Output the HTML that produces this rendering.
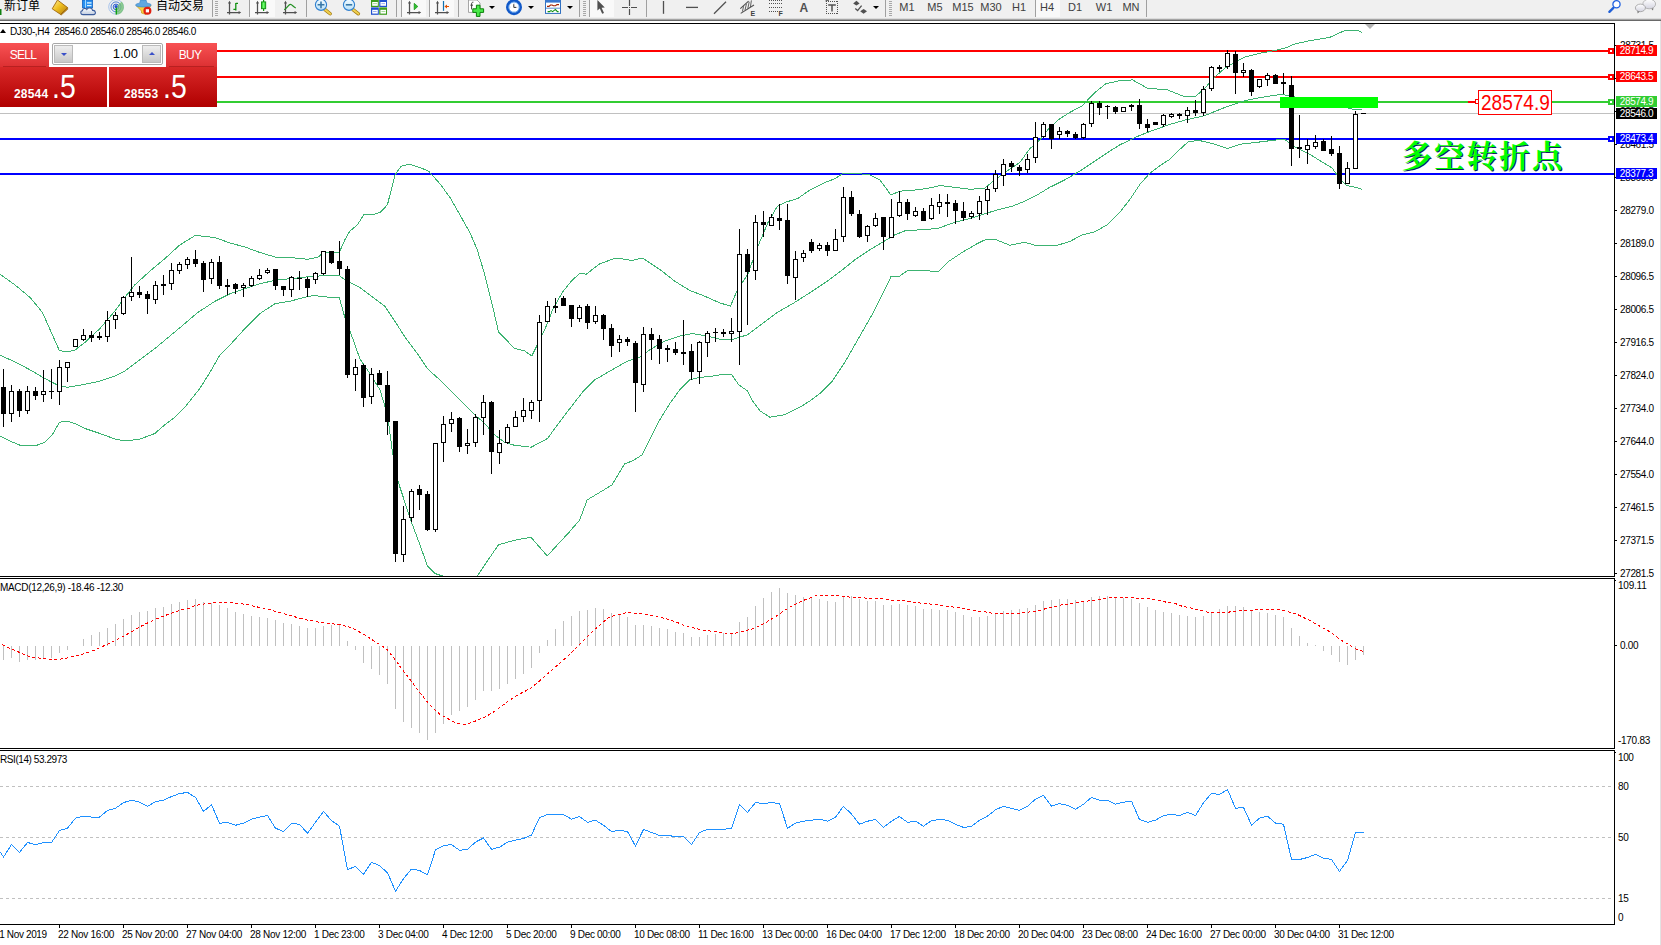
<!DOCTYPE html>
<html><head><meta charset="utf-8"><title>DJ30 H4</title>
<style>
html,body{margin:0;padding:0;background:#fff;}
body{width:1661px;height:945px;position:relative;overflow:hidden;font-family:"Liberation Sans","Noto Sans CJK SC",sans-serif;}
#chart{position:absolute;left:0;top:0;}
.t{position:absolute;white-space:nowrap;height:16px;line-height:16px;}
.pb{position:absolute;left:1616px;width:41px;color:#fff;font-size:10px;text-align:center;white-space:nowrap;}
#tb{position:absolute;left:0;top:0;width:1661px;height:19px;background:linear-gradient(#f0f0f0 0,#f0f0f0 18px,#dcdcdc 18px);}
#tbl1{position:absolute;left:0;top:19px;width:1661px;height:1px;background:#a4a4a4;}
#tbl2{position:absolute;left:0;top:20px;width:1661px;height:1px;background:#696969;}
.tt{position:absolute;top:0;height:15px;line-height:15px;font-size:11px;color:#404040;white-space:nowrap;transform:translateX(-50%);}
.cn{position:absolute;top:-2px;height:16px;line-height:16px;font-size:12px;color:#000;white-space:nowrap;}
.sep{position:absolute;top:0;width:1px;height:17px;background:#a0a0a0;}
.grip{position:absolute;top:1px;width:3px;height:15px;background:repeating-linear-gradient(#a8a8a8 0 1px,#f0f0f0 1px 2px);}
.pressed{position:absolute;top:0;height:17px;background:#f9f9f9;}
.ico{position:absolute;top:0;}
.dd{position:absolute;top:6px;width:0;height:0;border-left:3px solid transparent;border-right:3px solid transparent;border-top:3px solid #000;}
/* trade panel */
#tp{position:absolute;left:0;top:43px;width:217px;height:64px;background:#fff;}
#tp .sell,#tp .buy{position:absolute;top:0;height:24px;background:linear-gradient(#f85254,#dc3032);color:#fff;font-size:12px;text-align:center;line-height:24px;letter-spacing:-0.7px;text-indent:-3px;}
#tp .sell{left:0;width:49px;} #tp .buy{left:166px;width:51px;}
#tp .sell:after,#tp .buy:after{content:"";position:absolute;left:3px;right:3px;bottom:0;height:1px;background:#b82020;}
#tp .ps,#tp .pb2{position:absolute;top:24px;height:40px;background:linear-gradient(#d82828,#b00000);color:#fff;}
#tp .ps{left:0;width:107px;} #tp .pb2{left:109px;width:108px;}
#tp .sm{position:absolute;font-size:12px;font-weight:bold;top:20px;line-height:14px;letter-spacing:0.2px;}
#tp .bg{position:absolute;font-size:33px;top:0px;line-height:40px;transform:scaleX(0.86);transform-origin:left center;}
#vol{position:absolute;left:52px;top:0;width:111px;height:22px;box-sizing:border-box;border:1px solid #a8a8a8;border-radius:2px;background:#fff;}
#vol .b{position:absolute;top:1px;width:19px;height:18px;background:linear-gradient(#eee,#c8c8c8);border:1px solid #bbb;box-sizing:border-box;}
#vol .v{position:absolute;right:24px;top:0;font-size:13px;line-height:20px;color:#000;}
.tri-d{position:absolute;left:6px;top:7px;width:0;height:0;border-left:3px solid transparent;border-right:3px solid transparent;border-top:3px solid #3a50c8;}
.tri-u{position:absolute;left:6px;top:6px;width:0;height:0;border-left:3px solid transparent;border-right:3px solid transparent;border-bottom:3px solid #3a50c8;}
#big{position:absolute;left:1478px;top:90px;width:74px;height:25px;box-sizing:border-box;border:1px solid #f00;background:#fff;color:#f00;font-size:22px;line-height:23px;white-space:nowrap;}
#big span{display:inline-block;transform:scaleX(0.865);transform-origin:left center;margin-left:2px;}
#cn{position:absolute;left:1401.5px;top:134.5px;font-family:"Liberation Serif","Noto Serif CJK SC",serif;font-weight:bold;font-size:30.5px;line-height:44px;color:#00ff00;text-shadow:1px 1px 0 #102060;white-space:nowrap;letter-spacing:2.1px;}
</style></head><body>
<svg id="chart" width="1661" height="945" viewBox="0 0 1661 945">
<defs><clipPath id="mainclip"><rect x="0" y="24" width="1614" height="552"/></clipPath></defs>
<rect x="0" y="113" width="1614" height="1" fill="#c0c0c0"/>
<rect x="0" y="50" width="1614" height="2" fill="#ff0000"/>
<rect x="0" y="76" width="1614" height="2" fill="#ff0000"/>
<rect x="0" y="101" width="1614" height="2" fill="#32cd32"/>
<rect x="0" y="138" width="1614" height="2" fill="#0000ff"/>
<rect x="0" y="173" width="1614" height="2" fill="#0000ff"/>
<g clip-path="url(#mainclip)" shape-rendering="crispEdges">
<polyline points="0.0,274.2 15.0,284.9 30.0,297.4 42.4,312.4 52.4,334.9 59.4,350.6 67.4,351.8 75.4,349.8 84.9,342.4 99.9,328.6 114.9,311.1 124.8,297.4 134.8,284.9 149.8,271.2 164.8,258.7 179.8,245.0 194.8,235.7 204.7,236.2 207.5,236.7 215.0,237.5 230.0,243.0 244.9,247.0 259.9,252.5 274.9,257.0 289.9,257.5 307.4,259.2 317.4,257.5 323.3,253.0 331.3,252.5 339.3,252.5 344.8,240.0 349.8,231.2 357.3,225.0 363.7,214.9 372.5,214.9 380.0,212.4 387.4,204.9 391.2,189.9 394.9,175.0 401.2,166.2 409.9,164.2 419.9,167.5 428.6,171.2 439.9,183.7 449.9,197.4 459.9,214.9 469.8,232.4 477.3,249.9 484.8,274.8 492.3,304.8 498.6,332.3 514.8,348.5 524.8,351.0 531.8,356.0 539.8,339.8 548.0,322.3 552.5,309.9 562.4,292.4 571.2,281.2 579.9,273.2 586.2,274.2 599.9,263.7 616.1,258.0 632.4,260.5 642.3,258.0 659.8,269.4 674.8,281.2 689.8,290.4 704.8,296.2 719.8,302.9 730.5,306.1 737.5,289.8 747.5,274.9 757.5,247.4 767.4,223.7 777.4,206.2 786.2,202.0 797.4,198.7 809.9,190.0 824.9,182.5 834.9,178.7 842.3,173.7 854.8,173.0 869.8,175.0 879.8,180.0 891.0,195.0 899.8,191.2 914.8,190.0 919.8,189.5 930.0,187.8 940.0,185.6 955.0,187.3 969.9,189.3 984.9,188.1 994.9,179.9 1004.9,172.4 1019.9,162.4 1029.9,148.6 1039.9,139.9 1049.8,127.4 1059.8,118.7 1069.8,112.4 1082.3,105.7 1094.8,92.5 1106.0,83.7 1119.8,80.7 1132.5,79.9 1147.5,88.2 1167.4,89.9 1184.9,96.9 1194.9,96.9 1204.9,88.2 1214.9,76.9 1224.9,68.2 1234.9,62.0 1244.8,57.0 1259.8,53.2 1269.8,51.5 1284.8,48.2 1294.8,44.0 1309.8,40.7 1328.0,37.7 1329.4,37.5 1344.4,30.7 1356.9,30.2 1362.4,32.5" fill="none" stroke="#3cb371" stroke-width="1" />
<polyline points="0.0,355.3 15.0,361.8 30.0,369.8 44.9,378.6 59.4,386.0 67.4,387.3 84.9,384.3 99.9,381.1 114.9,376.1 124.8,371.1 139.8,359.8 154.8,348.6 169.8,336.1 184.8,323.6 197.3,312.9 200.0,311.1 215.0,301.2 230.0,293.7 244.9,288.7 259.9,283.7 274.9,280.4 289.9,278.7 307.4,276.9 323.3,275.7 339.3,275.7 347.3,281.2 359.8,287.4 374.8,298.7 384.8,306.1 394.8,321.1 406.0,338.6 417.4,353.7 427.4,368.7 439.9,380.0 449.9,389.9 459.9,399.9 474.9,414.9 484.8,423.6 494.8,434.9 504.8,442.4 514.8,445.4 519.8,445.9 531.2,447.2 547.5,438.5 557.5,424.8 569.9,408.5 582.4,392.3 594.9,379.8 609.9,371.1 627.4,361.1 639.9,357.3 649.8,349.8 664.8,341.1 679.8,336.1 692.3,333.6 707.3,336.1 719.8,339.1 731.2,339.8 747.5,334.8 762.4,323.6 777.4,312.3 794.9,302.3 812.4,291.1 827.4,281.1 842.3,269.9 854.8,259.9 869.8,249.9 882.3,242.4 894.8,234.9 906.0,230.4 919.8,229.9 937.5,228.5 955.0,222.3 969.9,218.6 984.9,213.6 999.9,209.3 1012.4,206.1 1024.9,201.1 1037.4,194.8 1049.8,187.3 1064.8,179.9 1079.8,171.1 1094.8,161.1 1109.8,151.1 1119.8,144.9 1135.0,137.4 1150.0,131.4 1169.9,124.4 1184.9,120.1 1204.9,115.6 1219.9,109.4 1229.9,105.6 1244.8,100.7 1259.8,97.7 1274.8,95.2 1282.3,94.4 1294.8,96.9 1309.8,99.4 1334.7,103.1 1344.7,106.9 1354.7,109.9 1362.2,109.4" fill="none" stroke="#3cb371" stroke-width="1" />
<polyline points="0.0,436.0 10.0,441.0 20.0,445.2 35.0,446.0 44.9,442.2 52.4,434.7 59.4,422.3 67.4,421.0 74.9,423.5 84.9,428.5 99.9,433.5 114.9,439.0 124.8,441.0 139.8,439.2 154.8,433.5 164.8,424.8 174.8,417.3 184.8,407.3 194.8,394.8 199.8,388.5 210.0,372.3 220.0,354.8 230.0,344.9 244.9,328.6 259.9,313.6 274.9,303.7 289.9,301.2 307.4,296.7 314.9,295.4 323.3,296.9 339.3,297.4 344.8,317.4 352.3,337.4 359.8,358.6 370.0,373.7 380.0,389.9 387.5,414.9 392.5,452.4 397.5,479.8 404.9,502.3 412.4,524.8 419.9,544.7 427.4,566.0 434.9,573.5 442.4,576.0 477.4,576.0 484.8,564.7 498.6,544.7 514.8,540.2 531.0,537.3 547.3,556.0 559.8,542.2 568.0,533.5 579.7,519.9 587.2,499.9 599.7,492.4 612.1,484.9 624.6,463.7 632.4,461.0 642.3,454.7 649.8,439.7 659.8,419.8 669.8,403.5 679.8,389.8 689.8,379.8 699.8,377.3 709.8,376.6 719.8,374.8 731.2,374.0 738.7,384.7 747.5,391.0 752.5,401.0 760.0,410.9 769.9,417.2 784.9,414.7 799.9,407.2 809.9,401.0 819.9,393.5 832.4,381.0 844.8,362.3 854.8,344.8 864.8,327.3 874.8,309.8 882.3,294.8 891.0,276.6 899.8,276.1 907.3,270.6 919.8,270.4 938.7,271.5 947.5,262.2 962.4,252.3 977.4,243.5 986.2,239.3 994.9,239.3 1009.9,245.3 1024.9,242.3 1034.9,245.3 1057.3,245.3 1069.8,241.5 1082.3,234.8 1094.8,231.8 1107.3,224.8 1117.3,214.8 1119.8,212.3 1130.0,199.3 1140.0,184.3 1150.0,173.1 1160.0,165.6 1169.9,159.3 1179.9,149.3 1188.7,141.4 1199.9,140.6 1214.9,144.3 1227.4,148.6 1239.9,144.3 1254.8,142.6 1274.8,140.1 1284.8,139.4 1294.8,146.8 1309.8,154.3 1319.8,160.6 1332.2,168.1 1339.2,178.1 1346.7,185.5 1356.7,187.5 1362.2,189.3" fill="none" stroke="#3cb371" stroke-width="1" />
</g>
<g shape-rendering="crispEdges">
<rect x="3" y="369" width="1" height="58" fill="#000"/>
<rect x="1" y="387" width="5" height="27" fill="#000"/>
<rect x="11" y="385" width="1" height="37" fill="#000"/>
<rect x="9" y="391" width="5" height="23" fill="#000"/>
<rect x="10" y="392" width="3" height="21" fill="#fff"/>
<rect x="19" y="389" width="1" height="28" fill="#000"/>
<rect x="17" y="391" width="5" height="20" fill="#000"/>
<rect x="27" y="386" width="1" height="28" fill="#000"/>
<rect x="25" y="391" width="5" height="20" fill="#000"/>
<rect x="26" y="392" width="3" height="18" fill="#fff"/>
<rect x="35" y="387" width="1" height="13" fill="#000"/>
<rect x="33" y="391" width="5" height="5" fill="#000"/>
<rect x="43" y="370" width="1" height="32" fill="#000"/>
<rect x="41" y="391" width="5" height="4" fill="#000"/>
<rect x="42" y="392" width="3" height="2" fill="#fff"/>
<rect x="51" y="369" width="1" height="30" fill="#000"/>
<rect x="49" y="391" width="5" height="1" fill="#000"/>
<rect x="59" y="360" width="1" height="45" fill="#000"/>
<rect x="57" y="367" width="5" height="25" fill="#000"/>
<rect x="58" y="368" width="3" height="23" fill="#fff"/>
<rect x="67" y="362" width="1" height="20" fill="#000"/>
<rect x="65" y="362" width="5" height="6" fill="#000"/>
<rect x="66" y="363" width="3" height="4" fill="#fff"/>
<rect x="75" y="339" width="1" height="8" fill="#000"/>
<rect x="73" y="339" width="5" height="8" fill="#000"/>
<rect x="74" y="340" width="3" height="6" fill="#fff"/>
<rect x="83" y="329" width="1" height="12" fill="#000"/>
<rect x="81" y="335" width="5" height="5" fill="#000"/>
<rect x="82" y="336" width="3" height="3" fill="#fff"/>
<rect x="91" y="331" width="1" height="11" fill="#000"/>
<rect x="89" y="335" width="5" height="3" fill="#000"/>
<rect x="99" y="332" width="1" height="8" fill="#000"/>
<rect x="97" y="336" width="5" height="2" fill="#000"/>
<rect x="107" y="311" width="1" height="31" fill="#000"/>
<rect x="105" y="320" width="5" height="17" fill="#000"/>
<rect x="106" y="321" width="3" height="15" fill="#fff"/>
<rect x="115" y="312" width="1" height="17" fill="#000"/>
<rect x="113" y="315" width="5" height="5" fill="#000"/>
<rect x="114" y="316" width="3" height="3" fill="#fff"/>
<rect x="123" y="296" width="1" height="19" fill="#000"/>
<rect x="121" y="297" width="5" height="17" fill="#000"/>
<rect x="122" y="298" width="3" height="15" fill="#fff"/>
<rect x="131" y="257" width="1" height="44" fill="#000"/>
<rect x="129" y="292" width="5" height="5" fill="#000"/>
<rect x="130" y="293" width="3" height="3" fill="#fff"/>
<rect x="139" y="286" width="1" height="12" fill="#000"/>
<rect x="137" y="292" width="5" height="3" fill="#000"/>
<rect x="147" y="291" width="1" height="23" fill="#000"/>
<rect x="145" y="294" width="5" height="5" fill="#000"/>
<rect x="155" y="281" width="1" height="23" fill="#000"/>
<rect x="153" y="285" width="5" height="15" fill="#000"/>
<rect x="154" y="286" width="3" height="13" fill="#fff"/>
<rect x="163" y="275" width="1" height="20" fill="#000"/>
<rect x="161" y="284" width="5" height="2" fill="#000"/>
<rect x="171" y="263" width="1" height="27" fill="#000"/>
<rect x="169" y="270" width="5" height="14" fill="#000"/>
<rect x="170" y="271" width="3" height="12" fill="#fff"/>
<rect x="179" y="262" width="1" height="12" fill="#000"/>
<rect x="177" y="264" width="5" height="7" fill="#000"/>
<rect x="178" y="265" width="3" height="5" fill="#fff"/>
<rect x="187" y="257" width="1" height="12" fill="#000"/>
<rect x="185" y="259" width="5" height="6" fill="#000"/>
<rect x="186" y="260" width="3" height="4" fill="#fff"/>
<rect x="195" y="250" width="1" height="17" fill="#000"/>
<rect x="193" y="259" width="5" height="5" fill="#000"/>
<rect x="203" y="261" width="1" height="31" fill="#000"/>
<rect x="201" y="263" width="5" height="17" fill="#000"/>
<rect x="211" y="259" width="1" height="25" fill="#000"/>
<rect x="209" y="262" width="5" height="17" fill="#000"/>
<rect x="210" y="263" width="3" height="15" fill="#fff"/>
<rect x="219" y="256" width="1" height="33" fill="#000"/>
<rect x="217" y="262" width="5" height="24" fill="#000"/>
<rect x="227" y="279" width="1" height="16" fill="#000"/>
<rect x="225" y="285" width="5" height="2" fill="#000"/>
<rect x="235" y="283" width="1" height="11" fill="#000"/>
<rect x="233" y="284" width="5" height="5" fill="#000"/>
<rect x="243" y="283" width="1" height="14" fill="#000"/>
<rect x="241" y="285" width="5" height="3" fill="#000"/>
<rect x="242" y="286" width="3" height="1" fill="#fff"/>
<rect x="251" y="276" width="1" height="11" fill="#000"/>
<rect x="249" y="278" width="5" height="8" fill="#000"/>
<rect x="250" y="279" width="3" height="6" fill="#fff"/>
<rect x="259" y="269" width="1" height="11" fill="#000"/>
<rect x="257" y="275" width="5" height="4" fill="#000"/>
<rect x="258" y="276" width="3" height="2" fill="#fff"/>
<rect x="267" y="268" width="1" height="6" fill="#000"/>
<rect x="265" y="270" width="5" height="3" fill="#000"/>
<rect x="266" y="271" width="3" height="1" fill="#fff"/>
<rect x="275" y="269" width="1" height="21" fill="#000"/>
<rect x="273" y="269" width="5" height="17" fill="#000"/>
<rect x="283" y="286" width="1" height="10" fill="#000"/>
<rect x="281" y="286" width="5" height="4" fill="#000"/>
<rect x="291" y="276" width="1" height="21" fill="#000"/>
<rect x="289" y="277" width="5" height="13" fill="#000"/>
<rect x="290" y="278" width="3" height="11" fill="#fff"/>
<rect x="299" y="271" width="1" height="19" fill="#000"/>
<rect x="297" y="278" width="5" height="1" fill="#000"/>
<rect x="307" y="277" width="1" height="20" fill="#000"/>
<rect x="305" y="279" width="5" height="9" fill="#000"/>
<rect x="315" y="272" width="1" height="12" fill="#000"/>
<rect x="313" y="273" width="5" height="7" fill="#000"/>
<rect x="314" y="274" width="3" height="5" fill="#fff"/>
<rect x="323" y="251" width="1" height="24" fill="#000"/>
<rect x="321" y="251" width="5" height="23" fill="#000"/>
<rect x="322" y="252" width="3" height="21" fill="#fff"/>
<rect x="331" y="251" width="1" height="13" fill="#000"/>
<rect x="329" y="251" width="5" height="12" fill="#000"/>
<rect x="339" y="241" width="1" height="34" fill="#000"/>
<rect x="337" y="261" width="5" height="8" fill="#000"/>
<rect x="347" y="266" width="1" height="112" fill="#000"/>
<rect x="345" y="269" width="5" height="106" fill="#000"/>
<rect x="355" y="359" width="1" height="32" fill="#000"/>
<rect x="353" y="367" width="5" height="8" fill="#000"/>
<rect x="354" y="368" width="3" height="6" fill="#fff"/>
<rect x="363" y="364" width="1" height="43" fill="#000"/>
<rect x="361" y="365" width="5" height="33" fill="#000"/>
<rect x="371" y="368" width="1" height="36" fill="#000"/>
<rect x="369" y="374" width="5" height="23" fill="#000"/>
<rect x="370" y="375" width="3" height="21" fill="#fff"/>
<rect x="379" y="370" width="1" height="15" fill="#000"/>
<rect x="377" y="373" width="5" height="12" fill="#000"/>
<rect x="387" y="371" width="1" height="64" fill="#000"/>
<rect x="385" y="385" width="5" height="37" fill="#000"/>
<rect x="395" y="421" width="1" height="141" fill="#000"/>
<rect x="393" y="421" width="5" height="133" fill="#000"/>
<rect x="403" y="506" width="1" height="56" fill="#000"/>
<rect x="401" y="519" width="5" height="36" fill="#000"/>
<rect x="402" y="520" width="3" height="34" fill="#fff"/>
<rect x="411" y="489" width="1" height="33" fill="#000"/>
<rect x="409" y="491" width="5" height="27" fill="#000"/>
<rect x="410" y="492" width="3" height="25" fill="#fff"/>
<rect x="419" y="485" width="1" height="25" fill="#000"/>
<rect x="417" y="489" width="5" height="6" fill="#000"/>
<rect x="427" y="491" width="1" height="40" fill="#000"/>
<rect x="425" y="494" width="5" height="36" fill="#000"/>
<rect x="435" y="443" width="1" height="89" fill="#000"/>
<rect x="433" y="443" width="5" height="87" fill="#000"/>
<rect x="434" y="444" width="3" height="85" fill="#fff"/>
<rect x="443" y="416" width="1" height="46" fill="#000"/>
<rect x="441" y="424" width="5" height="19" fill="#000"/>
<rect x="442" y="425" width="3" height="17" fill="#fff"/>
<rect x="451" y="412" width="1" height="20" fill="#000"/>
<rect x="449" y="419" width="5" height="5" fill="#000"/>
<rect x="450" y="420" width="3" height="3" fill="#fff"/>
<rect x="459" y="417" width="1" height="35" fill="#000"/>
<rect x="457" y="418" width="5" height="29" fill="#000"/>
<rect x="467" y="429" width="1" height="25" fill="#000"/>
<rect x="465" y="443" width="5" height="3" fill="#000"/>
<rect x="466" y="444" width="3" height="1" fill="#fff"/>
<rect x="475" y="414" width="1" height="33" fill="#000"/>
<rect x="473" y="417" width="5" height="26" fill="#000"/>
<rect x="474" y="418" width="3" height="24" fill="#fff"/>
<rect x="483" y="395" width="1" height="40" fill="#000"/>
<rect x="481" y="402" width="5" height="16" fill="#000"/>
<rect x="482" y="403" width="3" height="14" fill="#fff"/>
<rect x="491" y="401" width="1" height="73" fill="#000"/>
<rect x="489" y="402" width="5" height="50" fill="#000"/>
<rect x="499" y="430" width="1" height="34" fill="#000"/>
<rect x="497" y="443" width="5" height="10" fill="#000"/>
<rect x="498" y="444" width="3" height="8" fill="#fff"/>
<rect x="507" y="424" width="1" height="20" fill="#000"/>
<rect x="505" y="427" width="5" height="16" fill="#000"/>
<rect x="506" y="428" width="3" height="14" fill="#fff"/>
<rect x="515" y="411" width="1" height="16" fill="#000"/>
<rect x="513" y="417" width="5" height="10" fill="#000"/>
<rect x="514" y="418" width="3" height="8" fill="#fff"/>
<rect x="523" y="398" width="1" height="24" fill="#000"/>
<rect x="521" y="410" width="5" height="7" fill="#000"/>
<rect x="522" y="411" width="3" height="5" fill="#fff"/>
<rect x="531" y="400" width="1" height="19" fill="#000"/>
<rect x="529" y="402" width="5" height="9" fill="#000"/>
<rect x="530" y="403" width="3" height="7" fill="#fff"/>
<rect x="539" y="315" width="1" height="107" fill="#000"/>
<rect x="537" y="322" width="5" height="79" fill="#000"/>
<rect x="538" y="323" width="3" height="77" fill="#fff"/>
<rect x="547" y="301" width="1" height="21" fill="#000"/>
<rect x="545" y="306" width="5" height="16" fill="#000"/>
<rect x="546" y="307" width="3" height="14" fill="#fff"/>
<rect x="555" y="298" width="1" height="15" fill="#000"/>
<rect x="553" y="306" width="5" height="2" fill="#000"/>
<rect x="563" y="296" width="1" height="9" fill="#000"/>
<rect x="561" y="298" width="5" height="8" fill="#000"/>
<rect x="571" y="305" width="1" height="22" fill="#000"/>
<rect x="569" y="305" width="5" height="14" fill="#000"/>
<rect x="579" y="305" width="1" height="17" fill="#000"/>
<rect x="577" y="307" width="5" height="12" fill="#000"/>
<rect x="578" y="308" width="3" height="10" fill="#fff"/>
<rect x="587" y="304" width="1" height="25" fill="#000"/>
<rect x="585" y="306" width="5" height="17" fill="#000"/>
<rect x="595" y="306" width="1" height="18" fill="#000"/>
<rect x="593" y="315" width="5" height="7" fill="#000"/>
<rect x="594" y="316" width="3" height="5" fill="#fff"/>
<rect x="603" y="314" width="1" height="26" fill="#000"/>
<rect x="601" y="315" width="5" height="14" fill="#000"/>
<rect x="611" y="324" width="1" height="33" fill="#000"/>
<rect x="609" y="328" width="5" height="18" fill="#000"/>
<rect x="619" y="335" width="1" height="17" fill="#000"/>
<rect x="617" y="339" width="5" height="4" fill="#000"/>
<rect x="618" y="340" width="3" height="2" fill="#fff"/>
<rect x="627" y="337" width="1" height="9" fill="#000"/>
<rect x="625" y="339" width="5" height="3" fill="#000"/>
<rect x="635" y="341" width="1" height="71" fill="#000"/>
<rect x="633" y="343" width="5" height="40" fill="#000"/>
<rect x="643" y="327" width="1" height="65" fill="#000"/>
<rect x="641" y="334" width="5" height="51" fill="#000"/>
<rect x="642" y="335" width="3" height="49" fill="#fff"/>
<rect x="651" y="328" width="1" height="32" fill="#000"/>
<rect x="649" y="334" width="5" height="6" fill="#000"/>
<rect x="659" y="335" width="1" height="29" fill="#000"/>
<rect x="657" y="339" width="5" height="10" fill="#000"/>
<rect x="667" y="345" width="1" height="17" fill="#000"/>
<rect x="665" y="348" width="5" height="2" fill="#000"/>
<rect x="675" y="342" width="1" height="13" fill="#000"/>
<rect x="673" y="349" width="5" height="4" fill="#000"/>
<rect x="683" y="320" width="1" height="45" fill="#000"/>
<rect x="681" y="352" width="5" height="2" fill="#000"/>
<rect x="691" y="344" width="1" height="36" fill="#000"/>
<rect x="689" y="351" width="5" height="21" fill="#000"/>
<rect x="699" y="341" width="1" height="43" fill="#000"/>
<rect x="697" y="342" width="5" height="30" fill="#000"/>
<rect x="698" y="343" width="3" height="28" fill="#fff"/>
<rect x="707" y="331" width="1" height="26" fill="#000"/>
<rect x="705" y="333" width="5" height="10" fill="#000"/>
<rect x="706" y="334" width="3" height="8" fill="#fff"/>
<rect x="715" y="328" width="1" height="14" fill="#000"/>
<rect x="713" y="332" width="5" height="1" fill="#000"/>
<rect x="723" y="329" width="1" height="8" fill="#000"/>
<rect x="721" y="332" width="5" height="2" fill="#000"/>
<rect x="731" y="318" width="1" height="24" fill="#000"/>
<rect x="729" y="331" width="5" height="3" fill="#000"/>
<rect x="730" y="332" width="3" height="1" fill="#fff"/>
<rect x="739" y="229" width="1" height="136" fill="#000"/>
<rect x="737" y="254" width="5" height="78" fill="#000"/>
<rect x="738" y="255" width="3" height="76" fill="#fff"/>
<rect x="747" y="249" width="1" height="76" fill="#000"/>
<rect x="745" y="254" width="5" height="18" fill="#000"/>
<rect x="755" y="215" width="1" height="65" fill="#000"/>
<rect x="753" y="222" width="5" height="49" fill="#000"/>
<rect x="754" y="223" width="3" height="47" fill="#fff"/>
<rect x="763" y="211" width="1" height="26" fill="#000"/>
<rect x="761" y="222" width="5" height="3" fill="#000"/>
<rect x="771" y="214" width="1" height="12" fill="#000"/>
<rect x="769" y="217" width="5" height="9" fill="#000"/>
<rect x="770" y="218" width="3" height="7" fill="#fff"/>
<rect x="779" y="204" width="1" height="26" fill="#000"/>
<rect x="777" y="218" width="5" height="3" fill="#000"/>
<rect x="787" y="204" width="1" height="80" fill="#000"/>
<rect x="785" y="220" width="5" height="56" fill="#000"/>
<rect x="795" y="251" width="1" height="49" fill="#000"/>
<rect x="793" y="259" width="5" height="19" fill="#000"/>
<rect x="794" y="260" width="3" height="17" fill="#fff"/>
<rect x="803" y="250" width="1" height="12" fill="#000"/>
<rect x="801" y="253" width="5" height="5" fill="#000"/>
<rect x="802" y="254" width="3" height="3" fill="#fff"/>
<rect x="811" y="239" width="1" height="14" fill="#000"/>
<rect x="809" y="242" width="5" height="9" fill="#000"/>
<rect x="819" y="243" width="1" height="8" fill="#000"/>
<rect x="817" y="245" width="5" height="4" fill="#000"/>
<rect x="818" y="246" width="3" height="2" fill="#fff"/>
<rect x="827" y="242" width="1" height="14" fill="#000"/>
<rect x="825" y="245" width="5" height="6" fill="#000"/>
<rect x="835" y="229" width="1" height="22" fill="#000"/>
<rect x="833" y="239" width="5" height="12" fill="#000"/>
<rect x="834" y="240" width="3" height="10" fill="#fff"/>
<rect x="843" y="187" width="1" height="55" fill="#000"/>
<rect x="841" y="197" width="5" height="40" fill="#000"/>
<rect x="842" y="198" width="3" height="38" fill="#fff"/>
<rect x="851" y="191" width="1" height="25" fill="#000"/>
<rect x="849" y="197" width="5" height="17" fill="#000"/>
<rect x="859" y="210" width="1" height="28" fill="#000"/>
<rect x="857" y="214" width="5" height="23" fill="#000"/>
<rect x="867" y="225" width="1" height="17" fill="#000"/>
<rect x="865" y="226" width="5" height="10" fill="#000"/>
<rect x="866" y="227" width="3" height="8" fill="#fff"/>
<rect x="875" y="213" width="1" height="14" fill="#000"/>
<rect x="873" y="218" width="5" height="8" fill="#000"/>
<rect x="874" y="219" width="3" height="6" fill="#fff"/>
<rect x="883" y="217" width="1" height="33" fill="#000"/>
<rect x="881" y="217" width="5" height="20" fill="#000"/>
<rect x="891" y="199" width="1" height="39" fill="#000"/>
<rect x="889" y="217" width="5" height="21" fill="#000"/>
<rect x="890" y="218" width="3" height="19" fill="#fff"/>
<rect x="899" y="191" width="1" height="26" fill="#000"/>
<rect x="897" y="202" width="5" height="14" fill="#000"/>
<rect x="898" y="203" width="3" height="12" fill="#fff"/>
<rect x="907" y="199" width="1" height="21" fill="#000"/>
<rect x="905" y="202" width="5" height="12" fill="#000"/>
<rect x="915" y="207" width="1" height="10" fill="#000"/>
<rect x="913" y="211" width="5" height="5" fill="#000"/>
<rect x="914" y="212" width="3" height="3" fill="#fff"/>
<rect x="923" y="208" width="1" height="13" fill="#000"/>
<rect x="921" y="211" width="5" height="10" fill="#000"/>
<rect x="931" y="198" width="1" height="22" fill="#000"/>
<rect x="929" y="205" width="5" height="14" fill="#000"/>
<rect x="930" y="206" width="3" height="12" fill="#fff"/>
<rect x="939" y="194" width="1" height="20" fill="#000"/>
<rect x="937" y="202" width="5" height="5" fill="#000"/>
<rect x="938" y="203" width="3" height="3" fill="#fff"/>
<rect x="947" y="194" width="1" height="23" fill="#000"/>
<rect x="945" y="202" width="5" height="2" fill="#000"/>
<rect x="955" y="200" width="1" height="24" fill="#000"/>
<rect x="953" y="203" width="5" height="8" fill="#000"/>
<rect x="963" y="202" width="1" height="19" fill="#000"/>
<rect x="961" y="211" width="5" height="7" fill="#000"/>
<rect x="971" y="211" width="1" height="8" fill="#000"/>
<rect x="969" y="213" width="5" height="4" fill="#000"/>
<rect x="970" y="214" width="3" height="2" fill="#fff"/>
<rect x="979" y="196" width="1" height="24" fill="#000"/>
<rect x="977" y="201" width="5" height="13" fill="#000"/>
<rect x="978" y="202" width="3" height="11" fill="#fff"/>
<rect x="987" y="186" width="1" height="29" fill="#000"/>
<rect x="985" y="189" width="5" height="12" fill="#000"/>
<rect x="986" y="190" width="3" height="10" fill="#fff"/>
<rect x="995" y="170" width="1" height="22" fill="#000"/>
<rect x="993" y="174" width="5" height="15" fill="#000"/>
<rect x="994" y="175" width="3" height="13" fill="#fff"/>
<rect x="1003" y="159" width="1" height="27" fill="#000"/>
<rect x="1001" y="164" width="5" height="12" fill="#000"/>
<rect x="1002" y="165" width="3" height="10" fill="#fff"/>
<rect x="1011" y="161" width="1" height="11" fill="#000"/>
<rect x="1009" y="163" width="5" height="4" fill="#000"/>
<rect x="1019" y="165" width="1" height="11" fill="#000"/>
<rect x="1017" y="167" width="5" height="4" fill="#000"/>
<rect x="1027" y="154" width="1" height="19" fill="#000"/>
<rect x="1025" y="159" width="5" height="11" fill="#000"/>
<rect x="1026" y="160" width="3" height="9" fill="#fff"/>
<rect x="1035" y="122" width="1" height="41" fill="#000"/>
<rect x="1033" y="137" width="5" height="21" fill="#000"/>
<rect x="1034" y="138" width="3" height="19" fill="#fff"/>
<rect x="1043" y="122" width="1" height="16" fill="#000"/>
<rect x="1041" y="124" width="5" height="13" fill="#000"/>
<rect x="1042" y="125" width="3" height="11" fill="#fff"/>
<rect x="1051" y="124" width="1" height="25" fill="#000"/>
<rect x="1049" y="124" width="5" height="15" fill="#000"/>
<rect x="1059" y="127" width="1" height="12" fill="#000"/>
<rect x="1057" y="131" width="5" height="4" fill="#000"/>
<rect x="1058" y="132" width="3" height="2" fill="#fff"/>
<rect x="1067" y="130" width="1" height="7" fill="#000"/>
<rect x="1065" y="131" width="5" height="3" fill="#000"/>
<rect x="1075" y="132" width="1" height="7" fill="#000"/>
<rect x="1073" y="134" width="5" height="4" fill="#000"/>
<rect x="1083" y="123" width="1" height="16" fill="#000"/>
<rect x="1081" y="124" width="5" height="14" fill="#000"/>
<rect x="1082" y="125" width="3" height="12" fill="#fff"/>
<rect x="1091" y="101" width="1" height="26" fill="#000"/>
<rect x="1089" y="103" width="5" height="21" fill="#000"/>
<rect x="1090" y="104" width="3" height="19" fill="#fff"/>
<rect x="1099" y="101" width="1" height="14" fill="#000"/>
<rect x="1097" y="103" width="5" height="5" fill="#000"/>
<rect x="1107" y="105" width="1" height="14" fill="#000"/>
<rect x="1105" y="106" width="5" height="1" fill="#000"/>
<rect x="1115" y="106" width="1" height="8" fill="#000"/>
<rect x="1113" y="107" width="5" height="5" fill="#000"/>
<rect x="1123" y="107" width="1" height="5" fill="#000"/>
<rect x="1121" y="107" width="5" height="5" fill="#000"/>
<rect x="1122" y="108" width="3" height="3" fill="#fff"/>
<rect x="1131" y="104" width="1" height="7" fill="#000"/>
<rect x="1129" y="105" width="5" height="2" fill="#000"/>
<rect x="1139" y="99" width="1" height="30" fill="#000"/>
<rect x="1137" y="105" width="5" height="19" fill="#000"/>
<rect x="1147" y="119" width="1" height="13" fill="#000"/>
<rect x="1145" y="124" width="5" height="4" fill="#000"/>
<rect x="1155" y="122" width="1" height="3" fill="#000"/>
<rect x="1153" y="122" width="5" height="3" fill="#000"/>
<rect x="1163" y="114" width="1" height="13" fill="#000"/>
<rect x="1161" y="115" width="5" height="10" fill="#000"/>
<rect x="1162" y="116" width="3" height="8" fill="#fff"/>
<rect x="1171" y="113" width="1" height="5" fill="#000"/>
<rect x="1169" y="114" width="5" height="3" fill="#000"/>
<rect x="1170" y="115" width="3" height="1" fill="#fff"/>
<rect x="1179" y="113" width="1" height="6" fill="#000"/>
<rect x="1177" y="114" width="5" height="2" fill="#000"/>
<rect x="1187" y="107" width="1" height="16" fill="#000"/>
<rect x="1185" y="110" width="5" height="6" fill="#000"/>
<rect x="1186" y="111" width="3" height="4" fill="#fff"/>
<rect x="1195" y="100" width="1" height="16" fill="#000"/>
<rect x="1193" y="110" width="5" height="3" fill="#000"/>
<rect x="1203" y="86" width="1" height="30" fill="#000"/>
<rect x="1201" y="89" width="5" height="24" fill="#000"/>
<rect x="1202" y="90" width="3" height="22" fill="#fff"/>
<rect x="1211" y="66" width="1" height="25" fill="#000"/>
<rect x="1209" y="67" width="5" height="22" fill="#000"/>
<rect x="1210" y="68" width="3" height="20" fill="#fff"/>
<rect x="1219" y="65" width="1" height="7" fill="#000"/>
<rect x="1217" y="67" width="5" height="2" fill="#000"/>
<rect x="1227" y="50" width="1" height="19" fill="#000"/>
<rect x="1225" y="53" width="5" height="14" fill="#000"/>
<rect x="1226" y="54" width="3" height="12" fill="#fff"/>
<rect x="1235" y="51" width="1" height="43" fill="#000"/>
<rect x="1233" y="54" width="5" height="19" fill="#000"/>
<rect x="1243" y="63" width="1" height="14" fill="#000"/>
<rect x="1241" y="70" width="5" height="3" fill="#000"/>
<rect x="1242" y="71" width="3" height="1" fill="#fff"/>
<rect x="1251" y="69" width="1" height="27" fill="#000"/>
<rect x="1249" y="70" width="5" height="22" fill="#000"/>
<rect x="1259" y="79" width="1" height="9" fill="#000"/>
<rect x="1257" y="79" width="5" height="8" fill="#000"/>
<rect x="1258" y="80" width="3" height="6" fill="#fff"/>
<rect x="1267" y="73" width="1" height="13" fill="#000"/>
<rect x="1265" y="75" width="5" height="5" fill="#000"/>
<rect x="1266" y="76" width="3" height="3" fill="#fff"/>
<rect x="1275" y="74" width="1" height="10" fill="#000"/>
<rect x="1273" y="75" width="5" height="9" fill="#000"/>
<rect x="1283" y="73" width="1" height="21" fill="#000"/>
<rect x="1281" y="82" width="5" height="2" fill="#000"/>
<rect x="1291" y="76" width="1" height="90" fill="#000"/>
<rect x="1289" y="85" width="5" height="64" fill="#000"/>
<rect x="1299" y="115" width="1" height="43" fill="#000"/>
<rect x="1297" y="147" width="5" height="2" fill="#000"/>
<rect x="1307" y="139" width="1" height="25" fill="#000"/>
<rect x="1305" y="145" width="5" height="5" fill="#000"/>
<rect x="1306" y="146" width="3" height="3" fill="#fff"/>
<rect x="1315" y="135" width="1" height="14" fill="#000"/>
<rect x="1313" y="142" width="5" height="5" fill="#000"/>
<rect x="1314" y="143" width="3" height="3" fill="#fff"/>
<rect x="1323" y="139" width="1" height="12" fill="#000"/>
<rect x="1321" y="141" width="5" height="10" fill="#000"/>
<rect x="1331" y="136" width="1" height="20" fill="#000"/>
<rect x="1329" y="149" width="5" height="5" fill="#000"/>
<rect x="1339" y="146" width="1" height="43" fill="#000"/>
<rect x="1337" y="153" width="5" height="31" fill="#000"/>
<rect x="1347" y="162" width="1" height="22" fill="#000"/>
<rect x="1345" y="168" width="5" height="16" fill="#000"/>
<rect x="1346" y="169" width="3" height="14" fill="#fff"/>
<rect x="1355" y="111" width="1" height="58" fill="#000"/>
<rect x="1353" y="114" width="5" height="55" fill="#000"/>
<rect x="1354" y="115" width="3" height="53" fill="#fff"/>
<rect x="1361" y="113" width="5" height="1" fill="#000"/>
</g>
<rect x="1280" y="97" width="98" height="11" fill="#00ff00" shape-rendering="crispEdges"/>
<polygon points="1365,24 1375,24 1370,29" fill="#b4b4b4"/>
<rect x="1609" y="49" width="4" height="4" fill="#fff" stroke="#ff0000" stroke-width="2" shape-rendering="crispEdges"/>
<rect x="1609" y="75" width="4" height="4" fill="#fff" stroke="#ff0000" stroke-width="2" shape-rendering="crispEdges"/>
<rect x="1609" y="100" width="4" height="4" fill="#fff" stroke="#32cd32" stroke-width="2" shape-rendering="crispEdges"/>
<rect x="1609" y="137" width="4" height="4" fill="#fff" stroke="#0000ff" stroke-width="2" shape-rendering="crispEdges"/>
<rect x="1468" y="101" width="8" height="2" fill="#ff0000"/>
<rect x="1475.5" y="99.5" width="3" height="4" fill="#fff" stroke="#ff0000" stroke-width="1"/>
<g shape-rendering="crispEdges">
<rect x="3" y="646" width="1" height="14" fill="#c0c0c0"/>
<rect x="11" y="646" width="1" height="12" fill="#c0c0c0"/>
<rect x="19" y="646" width="1" height="16" fill="#c0c0c0"/>
<rect x="27" y="646" width="1" height="14" fill="#c0c0c0"/>
<rect x="35" y="646" width="1" height="14" fill="#c0c0c0"/>
<rect x="43" y="646" width="1" height="12" fill="#c0c0c0"/>
<rect x="51" y="646" width="1" height="12" fill="#c0c0c0"/>
<rect x="59" y="646" width="1" height="7" fill="#c0c0c0"/>
<rect x="67" y="646" width="1" height="4" fill="#c0c0c0"/>
<rect x="83" y="639" width="1" height="7" fill="#c0c0c0"/>
<rect x="91" y="635" width="1" height="11" fill="#c0c0c0"/>
<rect x="99" y="632" width="1" height="14" fill="#c0c0c0"/>
<rect x="107" y="628" width="1" height="18" fill="#c0c0c0"/>
<rect x="115" y="624" width="1" height="22" fill="#c0c0c0"/>
<rect x="123" y="619" width="1" height="27" fill="#c0c0c0"/>
<rect x="131" y="615" width="1" height="31" fill="#c0c0c0"/>
<rect x="139" y="612" width="1" height="34" fill="#c0c0c0"/>
<rect x="147" y="611" width="1" height="35" fill="#c0c0c0"/>
<rect x="155" y="608" width="1" height="38" fill="#c0c0c0"/>
<rect x="163" y="607" width="1" height="39" fill="#c0c0c0"/>
<rect x="171" y="604" width="1" height="42" fill="#c0c0c0"/>
<rect x="179" y="602" width="1" height="44" fill="#c0c0c0"/>
<rect x="187" y="600" width="1" height="46" fill="#c0c0c0"/>
<rect x="195" y="599" width="1" height="47" fill="#c0c0c0"/>
<rect x="203" y="602" width="1" height="44" fill="#c0c0c0"/>
<rect x="211" y="603" width="1" height="43" fill="#c0c0c0"/>
<rect x="219" y="605" width="1" height="41" fill="#c0c0c0"/>
<rect x="227" y="608" width="1" height="38" fill="#c0c0c0"/>
<rect x="235" y="612" width="1" height="34" fill="#c0c0c0"/>
<rect x="243" y="614" width="1" height="32" fill="#c0c0c0"/>
<rect x="251" y="616" width="1" height="30" fill="#c0c0c0"/>
<rect x="259" y="617" width="1" height="29" fill="#c0c0c0"/>
<rect x="267" y="618" width="1" height="28" fill="#c0c0c0"/>
<rect x="275" y="620" width="1" height="26" fill="#c0c0c0"/>
<rect x="283" y="623" width="1" height="23" fill="#c0c0c0"/>
<rect x="291" y="624" width="1" height="22" fill="#c0c0c0"/>
<rect x="299" y="626" width="1" height="20" fill="#c0c0c0"/>
<rect x="307" y="628" width="1" height="18" fill="#c0c0c0"/>
<rect x="315" y="628" width="1" height="18" fill="#c0c0c0"/>
<rect x="323" y="626" width="1" height="20" fill="#c0c0c0"/>
<rect x="331" y="625" width="1" height="21" fill="#c0c0c0"/>
<rect x="339" y="624" width="1" height="22" fill="#c0c0c0"/>
<rect x="347" y="641" width="1" height="5" fill="#c0c0c0"/>
<rect x="355" y="646" width="1" height="4" fill="#c0c0c0"/>
<rect x="363" y="646" width="1" height="17" fill="#c0c0c0"/>
<rect x="371" y="646" width="1" height="23" fill="#c0c0c0"/>
<rect x="379" y="646" width="1" height="29" fill="#c0c0c0"/>
<rect x="387" y="646" width="1" height="38" fill="#c0c0c0"/>
<rect x="395" y="646" width="1" height="63" fill="#c0c0c0"/>
<rect x="403" y="646" width="1" height="76" fill="#c0c0c0"/>
<rect x="411" y="646" width="1" height="82" fill="#c0c0c0"/>
<rect x="419" y="646" width="1" height="87" fill="#c0c0c0"/>
<rect x="427" y="646" width="1" height="94" fill="#c0c0c0"/>
<rect x="435" y="646" width="1" height="87" fill="#c0c0c0"/>
<rect x="443" y="646" width="1" height="78" fill="#c0c0c0"/>
<rect x="451" y="646" width="1" height="69" fill="#c0c0c0"/>
<rect x="459" y="646" width="1" height="65" fill="#c0c0c0"/>
<rect x="467" y="646" width="1" height="61" fill="#c0c0c0"/>
<rect x="475" y="646" width="1" height="54" fill="#c0c0c0"/>
<rect x="483" y="646" width="1" height="45" fill="#c0c0c0"/>
<rect x="491" y="646" width="1" height="45" fill="#c0c0c0"/>
<rect x="499" y="646" width="1" height="43" fill="#c0c0c0"/>
<rect x="507" y="646" width="1" height="38" fill="#c0c0c0"/>
<rect x="515" y="646" width="1" height="33" fill="#c0c0c0"/>
<rect x="523" y="646" width="1" height="28" fill="#c0c0c0"/>
<rect x="531" y="646" width="1" height="22" fill="#c0c0c0"/>
<rect x="539" y="646" width="1" height="7" fill="#c0c0c0"/>
<rect x="547" y="640" width="1" height="6" fill="#c0c0c0"/>
<rect x="555" y="629" width="1" height="17" fill="#c0c0c0"/>
<rect x="563" y="621" width="1" height="25" fill="#c0c0c0"/>
<rect x="571" y="616" width="1" height="30" fill="#c0c0c0"/>
<rect x="579" y="611" width="1" height="35" fill="#c0c0c0"/>
<rect x="587" y="610" width="1" height="36" fill="#c0c0c0"/>
<rect x="595" y="608" width="1" height="38" fill="#c0c0c0"/>
<rect x="603" y="609" width="1" height="37" fill="#c0c0c0"/>
<rect x="611" y="613" width="1" height="33" fill="#c0c0c0"/>
<rect x="619" y="614" width="1" height="32" fill="#c0c0c0"/>
<rect x="627" y="617" width="1" height="29" fill="#c0c0c0"/>
<rect x="635" y="625" width="1" height="21" fill="#c0c0c0"/>
<rect x="643" y="625" width="1" height="21" fill="#c0c0c0"/>
<rect x="651" y="626" width="1" height="20" fill="#c0c0c0"/>
<rect x="659" y="628" width="1" height="18" fill="#c0c0c0"/>
<rect x="667" y="629" width="1" height="17" fill="#c0c0c0"/>
<rect x="675" y="632" width="1" height="14" fill="#c0c0c0"/>
<rect x="683" y="633" width="1" height="13" fill="#c0c0c0"/>
<rect x="691" y="637" width="1" height="9" fill="#c0c0c0"/>
<rect x="699" y="637" width="1" height="9" fill="#c0c0c0"/>
<rect x="707" y="635" width="1" height="11" fill="#c0c0c0"/>
<rect x="715" y="634" width="1" height="12" fill="#c0c0c0"/>
<rect x="723" y="633" width="1" height="13" fill="#c0c0c0"/>
<rect x="731" y="633" width="1" height="13" fill="#c0c0c0"/>
<rect x="739" y="622" width="1" height="24" fill="#c0c0c0"/>
<rect x="747" y="617" width="1" height="29" fill="#c0c0c0"/>
<rect x="755" y="606" width="1" height="40" fill="#c0c0c0"/>
<rect x="763" y="598" width="1" height="48" fill="#c0c0c0"/>
<rect x="771" y="592" width="1" height="54" fill="#c0c0c0"/>
<rect x="779" y="588" width="1" height="58" fill="#c0c0c0"/>
<rect x="787" y="593" width="1" height="53" fill="#c0c0c0"/>
<rect x="795" y="595" width="1" height="51" fill="#c0c0c0"/>
<rect x="803" y="597" width="1" height="49" fill="#c0c0c0"/>
<rect x="811" y="598" width="1" height="48" fill="#c0c0c0"/>
<rect x="819" y="599" width="1" height="47" fill="#c0c0c0"/>
<rect x="827" y="601" width="1" height="45" fill="#c0c0c0"/>
<rect x="835" y="602" width="1" height="44" fill="#c0c0c0"/>
<rect x="843" y="597" width="1" height="49" fill="#c0c0c0"/>
<rect x="851" y="596" width="1" height="50" fill="#c0c0c0"/>
<rect x="859" y="599" width="1" height="47" fill="#c0c0c0"/>
<rect x="867" y="601" width="1" height="45" fill="#c0c0c0"/>
<rect x="875" y="601" width="1" height="45" fill="#c0c0c0"/>
<rect x="883" y="605" width="1" height="41" fill="#c0c0c0"/>
<rect x="891" y="605" width="1" height="41" fill="#c0c0c0"/>
<rect x="899" y="604" width="1" height="42" fill="#c0c0c0"/>
<rect x="907" y="605" width="1" height="41" fill="#c0c0c0"/>
<rect x="915" y="606" width="1" height="40" fill="#c0c0c0"/>
<rect x="923" y="609" width="1" height="37" fill="#c0c0c0"/>
<rect x="931" y="609" width="1" height="37" fill="#c0c0c0"/>
<rect x="939" y="610" width="1" height="36" fill="#c0c0c0"/>
<rect x="947" y="610" width="1" height="36" fill="#c0c0c0"/>
<rect x="955" y="612" width="1" height="34" fill="#c0c0c0"/>
<rect x="963" y="615" width="1" height="31" fill="#c0c0c0"/>
<rect x="971" y="617" width="1" height="29" fill="#c0c0c0"/>
<rect x="979" y="617" width="1" height="29" fill="#c0c0c0"/>
<rect x="987" y="616" width="1" height="30" fill="#c0c0c0"/>
<rect x="995" y="614" width="1" height="32" fill="#c0c0c0"/>
<rect x="1003" y="611" width="1" height="35" fill="#c0c0c0"/>
<rect x="1011" y="610" width="1" height="36" fill="#c0c0c0"/>
<rect x="1019" y="609" width="1" height="37" fill="#c0c0c0"/>
<rect x="1027" y="608" width="1" height="38" fill="#c0c0c0"/>
<rect x="1035" y="605" width="1" height="41" fill="#c0c0c0"/>
<rect x="1043" y="601" width="1" height="45" fill="#c0c0c0"/>
<rect x="1051" y="600" width="1" height="46" fill="#c0c0c0"/>
<rect x="1059" y="599" width="1" height="47" fill="#c0c0c0"/>
<rect x="1067" y="599" width="1" height="47" fill="#c0c0c0"/>
<rect x="1075" y="600" width="1" height="46" fill="#c0c0c0"/>
<rect x="1083" y="601" width="1" height="45" fill="#c0c0c0"/>
<rect x="1091" y="597" width="1" height="49" fill="#c0c0c0"/>
<rect x="1099" y="596" width="1" height="50" fill="#c0c0c0"/>
<rect x="1107" y="596" width="1" height="50" fill="#c0c0c0"/>
<rect x="1115" y="597" width="1" height="49" fill="#c0c0c0"/>
<rect x="1123" y="598" width="1" height="48" fill="#c0c0c0"/>
<rect x="1131" y="599" width="1" height="47" fill="#c0c0c0"/>
<rect x="1139" y="603" width="1" height="43" fill="#c0c0c0"/>
<rect x="1147" y="607" width="1" height="39" fill="#c0c0c0"/>
<rect x="1155" y="610" width="1" height="36" fill="#c0c0c0"/>
<rect x="1163" y="612" width="1" height="34" fill="#c0c0c0"/>
<rect x="1171" y="613" width="1" height="33" fill="#c0c0c0"/>
<rect x="1179" y="615" width="1" height="31" fill="#c0c0c0"/>
<rect x="1187" y="616" width="1" height="30" fill="#c0c0c0"/>
<rect x="1195" y="617" width="1" height="29" fill="#c0c0c0"/>
<rect x="1203" y="616" width="1" height="30" fill="#c0c0c0"/>
<rect x="1211" y="612" width="1" height="34" fill="#c0c0c0"/>
<rect x="1219" y="609" width="1" height="37" fill="#c0c0c0"/>
<rect x="1227" y="606" width="1" height="40" fill="#c0c0c0"/>
<rect x="1235" y="606" width="1" height="40" fill="#c0c0c0"/>
<rect x="1243" y="607" width="1" height="39" fill="#c0c0c0"/>
<rect x="1251" y="610" width="1" height="36" fill="#c0c0c0"/>
<rect x="1259" y="612" width="1" height="34" fill="#c0c0c0"/>
<rect x="1267" y="613" width="1" height="33" fill="#c0c0c0"/>
<rect x="1275" y="615" width="1" height="31" fill="#c0c0c0"/>
<rect x="1283" y="617" width="1" height="29" fill="#c0c0c0"/>
<rect x="1291" y="628" width="1" height="18" fill="#c0c0c0"/>
<rect x="1299" y="636" width="1" height="10" fill="#c0c0c0"/>
<rect x="1307" y="643" width="1" height="3" fill="#c0c0c0"/>
<rect x="1315" y="645" width="1" height="1" fill="#c0c0c0"/>
<rect x="1323" y="646" width="1" height="5" fill="#c0c0c0"/>
<rect x="1331" y="646" width="1" height="9" fill="#c0c0c0"/>
<rect x="1339" y="646" width="1" height="16" fill="#c0c0c0"/>
<rect x="1347" y="646" width="1" height="19" fill="#c0c0c0"/>
<rect x="1355" y="646" width="1" height="14" fill="#c0c0c0"/>
<rect x="1363" y="646" width="1" height="9" fill="#c0c0c0"/>
</g>
<polyline points="2.0,644.6 8.2,647.6 14.3,650.3 20.5,652.8 26.6,655.8 34.8,657.5 43.0,658.5 51.2,659.3 59.4,659.3 67.6,657.9 75.7,655.8 83.9,653.8 92.1,651.1 100.3,647.6 108.5,643.6 116.7,639.9 124.9,635.4 133.1,630.9 141.2,626.2 149.4,622.1 157.6,618.4 165.8,615.3 174.0,612.2 182.2,609.8 188.3,608.8 194.5,605.7 202.7,604.2 210.8,603.2 219.0,602.6 231.3,602.6 239.5,603.6 247.7,604.7 255.9,606.7 264.1,608.3 272.3,610.4 280.5,612.8 288.6,614.9 296.8,617.4 305.0,619.6 313.2,621.0 321.4,622.7 329.6,623.7 340.0,624.5 343.1,625.5 350.2,627.2 356.4,630.2 362.5,633.7 368.7,637.4 374.8,641.5 380.9,645.2 387.1,649.7 395.3,659.9 403.5,671.2 411.6,681.4 419.8,692.7 428.0,702.9 436.2,711.1 440.3,714.6 446.4,717.9 452.6,721.3 458.7,723.8 464.9,724.4 471.0,722.8 477.2,720.3 483.3,717.7 489.4,714.6 495.6,710.7 501.7,706.0 507.9,701.3 514.0,697.4 520.1,693.7 526.3,690.6 531.4,687.6 536.5,683.5 544.7,676.3 552.9,669.1 561.1,662.0 569.3,654.8 577.5,646.6 585.6,638.4 593.8,630.2 602.0,623.1 608.2,618.0 614.3,615.3 620.5,614.5 626.6,612.4 632.7,613.3 640.9,613.9 649.1,614.9 657.3,616.3 665.5,618.6 671.6,620.6 680.0,623.5 686.1,626.6 692.3,627.6 698.4,629.2 704.6,630.5 712.8,631.3 720.9,632.3 729.1,633.7 735.3,633.3 741.4,631.7 747.6,630.2 753.7,628.6 759.8,625.7 766.0,622.5 772.1,618.6 778.3,614.9 784.4,610.4 790.5,606.7 796.7,603.6 802.8,600.6 809.0,598.5 815.1,595.9 823.3,595.4 837.6,595.4 843.8,596.5 849.9,597.1 860.1,597.5 870.4,598.5 880.6,598.5 888.8,600.0 903.1,600.6 913.4,602.0 921.6,603.2 931.8,604.2 942.0,605.3 946.1,606.3 956.4,607.3 966.6,609.2 976.8,610.8 987.1,612.2 993.2,613.5 1007.5,613.5 1020.0,613.3 1026.1,612.4 1034.3,611.4 1040.5,610.4 1046.6,608.3 1052.8,607.3 1058.9,605.3 1067.1,604.2 1075.3,602.6 1083.5,601.6 1091.6,600.6 1099.8,599.1 1108.0,598.1 1116.2,597.5 1132.6,597.5 1138.7,598.5 1149.0,598.5 1161.2,600.6 1167.4,602.6 1175.6,603.6 1181.7,606.1 1189.9,607.7 1198.1,609.8 1204.2,611.4 1210.4,612.8 1224.7,612.4 1237.0,611.4 1243.1,610.4 1253.4,610.2 1261.6,609.4 1277.9,609.4 1284.1,610.8 1292.3,612.8 1298.4,614.9 1304.5,618.0 1310.7,621.0 1316.8,624.5 1323.0,627.8 1329.1,631.3 1335.3,636.0 1341.4,640.5 1347.5,643.6 1353.7,648.1 1360.0,650.7 1363.9,651.3" fill="none" stroke="#ff0000" stroke-width="1" stroke-dasharray="3 2.5" shape-rendering="crispEdges"/>
<line x1="0" y1="786.5" x2="1614" y2="786.5" stroke="#c0c0c0" stroke-width="1" stroke-dasharray="3 3" shape-rendering="crispEdges"/>
<line x1="0" y1="837.5" x2="1614" y2="837.5" stroke="#c0c0c0" stroke-width="1" stroke-dasharray="3 3" shape-rendering="crispEdges"/>
<line x1="0" y1="898.5" x2="1614" y2="898.5" stroke="#c0c0c0" stroke-width="1" stroke-dasharray="3 3" shape-rendering="crispEdges"/>
<polyline points="0.0,851.7 3.5,857.1 11.5,844.6 19.5,852.4 27.5,842.5 35.5,844.6 43.5,842.7 51.5,842.5 59.5,830.5 67.5,828.2 75.5,818.2 83.5,816.1 91.5,817.1 99.5,817.1 107.5,810.4 115.5,808.3 123.5,802.6 131.5,800.2 139.5,802.2 147.5,806.3 155.5,801.6 163.5,800.2 171.5,796.5 179.5,793.6 187.5,792.4 195.5,797.5 203.5,811.4 211.5,804.7 219.5,823.3 227.5,822.3 235.5,825.3 243.5,823.1 251.5,819.2 259.5,817.1 267.5,815.5 275.5,828.2 283.5,831.5 291.5,823.3 299.5,824.3 307.5,833.3 315.5,822.3 323.5,811.4 331.5,820.6 339.5,826.2 347.5,869.8 355.5,866.3 363.5,874.3 371.5,862.2 379.5,865.7 387.5,872.8 395.5,891.2 403.5,878.6 411.5,869.1 419.5,870.4 427.5,874.9 435.5,849.9 443.5,845.6 451.5,844.6 459.5,850.3 467.5,849.3 475.5,842.1 483.5,838.0 491.5,849.3 499.5,847.2 507.5,842.1 515.5,840.1 523.5,838.4 531.5,835.0 539.5,817.6 547.5,814.5 555.5,814.5 563.5,814.5 571.5,819.2 579.5,816.5 587.5,822.3 595.5,820.2 603.5,825.3 611.5,831.5 619.5,830.5 627.5,831.5 635.5,846.2 643.5,829.4 651.5,832.5 659.5,835.4 667.5,835.4 675.5,836.6 683.5,836.4 691.5,844.6 699.5,832.5 707.5,829.4 715.5,829.4 723.5,829.4 731.5,828.2 739.5,804.7 747.5,812.4 755.5,802.6 763.5,803.6 771.5,802.6 779.5,803.6 787.5,828.2 795.5,823.1 803.5,821.2 811.5,820.2 819.5,819.2 827.5,821.2 835.5,817.1 843.5,806.3 851.5,814.1 859.5,824.3 867.5,821.2 875.5,819.6 883.5,827.2 891.5,821.2 899.5,816.5 907.5,822.3 915.5,821.2 923.5,826.2 931.5,820.6 939.5,819.6 947.5,820.2 955.5,824.3 963.5,827.4 971.5,826.4 979.5,820.2 987.5,816.1 995.5,809.8 1003.5,806.3 1011.5,808.3 1019.5,810.4 1027.5,806.3 1035.5,799.1 1043.5,795.4 1051.5,806.3 1059.5,803.6 1067.5,805.3 1075.5,809.4 1083.5,804.2 1091.5,797.5 1099.5,800.2 1107.5,800.2 1115.5,804.2 1123.5,802.2 1131.5,801.2 1139.5,819.6 1147.5,822.3 1155.5,820.2 1163.5,815.5 1171.5,814.5 1179.5,815.5 1187.5,812.4 1195.5,815.5 1203.5,802.8 1211.5,793.4 1219.5,794.4 1227.5,789.5 1235.5,808.3 1243.5,807.3 1251.5,825.1 1259.5,818.2 1267.5,816.1 1275.5,823.1 1283.5,824.3 1291.5,859.5 1299.5,859.5 1307.5,857.5 1315.5,854.4 1323.5,858.1 1331.5,859.5 1339.5,871.4 1347.5,860.5 1355.5,832.5 1363.5,832.5" fill="none" stroke="#1e90ff" stroke-width="1" shape-rendering="crispEdges"/>
<g shape-rendering="crispEdges" fill="#000">
<rect x="0" y="23" width="1615" height="1"/>
<rect x="1614" y="23" width="1" height="554"/>
<rect x="0" y="576" width="1615" height="1"/>
<rect x="0" y="578" width="1615" height="1"/>
<rect x="1614" y="578" width="1" height="171"/>
<rect x="0" y="748" width="1615" height="1"/>
<rect x="0" y="750" width="1615" height="1"/>
<rect x="1614" y="750" width="1" height="175"/>
<rect x="0" y="924" width="1615" height="1"/>
<rect x="1615" y="45" width="2" height="1"/>
<rect x="1615" y="78" width="2" height="1"/>
<rect x="1615" y="111" width="2" height="1"/>
<rect x="1615" y="144" width="2" height="1"/>
<rect x="1615" y="177" width="2" height="1"/>
<rect x="1615" y="210" width="2" height="1"/>
<rect x="1615" y="243" width="2" height="1"/>
<rect x="1615" y="276" width="2" height="1"/>
<rect x="1615" y="309" width="2" height="1"/>
<rect x="1615" y="342" width="2" height="1"/>
<rect x="1615" y="375" width="2" height="1"/>
<rect x="1615" y="408" width="2" height="1"/>
<rect x="1615" y="441" width="2" height="1"/>
<rect x="1615" y="474" width="2" height="1"/>
<rect x="1615" y="507" width="2" height="1"/>
<rect x="1615" y="540" width="2" height="1"/>
<rect x="1615" y="573" width="2" height="1"/>
<rect x="1615" y="645" width="2" height="1"/>
<rect x="1615" y="580" width="1" height="1"/>
<rect x="1615" y="752" width="1" height="1"/>
<rect x="59" y="925" width="1" height="3"/>
<rect x="123" y="925" width="1" height="3"/>
<rect x="187" y="925" width="1" height="3"/>
<rect x="251" y="925" width="1" height="3"/>
<rect x="315" y="925" width="1" height="3"/>
<rect x="379" y="925" width="1" height="3"/>
<rect x="443" y="925" width="1" height="3"/>
<rect x="507" y="925" width="1" height="3"/>
<rect x="571" y="925" width="1" height="3"/>
<rect x="635" y="925" width="1" height="3"/>
<rect x="699" y="925" width="1" height="3"/>
<rect x="763" y="925" width="1" height="3"/>
<rect x="827" y="925" width="1" height="3"/>
<rect x="891" y="925" width="1" height="3"/>
<rect x="955" y="925" width="1" height="3"/>
<rect x="1019" y="925" width="1" height="3"/>
<rect x="1083" y="925" width="1" height="3"/>
<rect x="1147" y="925" width="1" height="3"/>
<rect x="1211" y="925" width="1" height="3"/>
<rect x="1275" y="925" width="1" height="3"/>
<rect x="1339" y="925" width="1" height="3"/>
</g>
</svg>
<div class="t " style="left:1620px;top:37.5px;font-size:10px;letter-spacing:-0.36px;color:#000;">28731.5</div>
<div class="t " style="left:1620px;top:70.5px;font-size:10px;letter-spacing:-0.36px;color:#000;">28641.5</div>
<div class="t " style="left:1620px;top:103.5px;font-size:10px;letter-spacing:-0.36px;color:#000;">28551.5</div>
<div class="t " style="left:1620px;top:136.5px;font-size:10px;letter-spacing:-0.36px;color:#000;">28461.5</div>
<div class="t " style="left:1620px;top:169.5px;font-size:10px;letter-spacing:-0.36px;color:#000;">28369.0</div>
<div class="t " style="left:1620px;top:202.5px;font-size:10px;letter-spacing:-0.36px;color:#000;">28279.0</div>
<div class="t " style="left:1620px;top:235.5px;font-size:10px;letter-spacing:-0.36px;color:#000;">28189.0</div>
<div class="t " style="left:1620px;top:268.5px;font-size:10px;letter-spacing:-0.36px;color:#000;">28096.5</div>
<div class="t " style="left:1620px;top:301.5px;font-size:10px;letter-spacing:-0.36px;color:#000;">28006.5</div>
<div class="t " style="left:1620px;top:334.5px;font-size:10px;letter-spacing:-0.36px;color:#000;">27916.5</div>
<div class="t " style="left:1620px;top:367.5px;font-size:10px;letter-spacing:-0.36px;color:#000;">27824.0</div>
<div class="t " style="left:1620px;top:400.5px;font-size:10px;letter-spacing:-0.36px;color:#000;">27734.0</div>
<div class="t " style="left:1620px;top:433.5px;font-size:10px;letter-spacing:-0.36px;color:#000;">27644.0</div>
<div class="t " style="left:1620px;top:466.5px;font-size:10px;letter-spacing:-0.36px;color:#000;">27554.0</div>
<div class="t " style="left:1620px;top:499.5px;font-size:10px;letter-spacing:-0.36px;color:#000;">27461.5</div>
<div class="t " style="left:1620px;top:532.5px;font-size:10px;letter-spacing:-0.36px;color:#000;">27371.5</div>
<div class="t " style="left:1620px;top:565.5px;font-size:10px;letter-spacing:-0.36px;color:#000;">27281.5</div>
<div class="t " style="left:1618px;top:577.5px;font-size:10px;letter-spacing:-0.22px;color:#000;">109.11</div>
<div class="t " style="left:1620px;top:637.5px;font-size:10px;letter-spacing:-0.30px;color:#000;">0.00</div>
<div class="t " style="left:1618px;top:733px;font-size:10px;letter-spacing:-0.28px;color:#000;">-170.83</div>
<div class="t " style="left:1618px;top:749.5px;font-size:10px;letter-spacing:-0.43px;color:#000;">100</div>
<div class="t " style="left:1618px;top:778.5px;font-size:10px;letter-spacing:-0.43px;color:#000;">80</div>
<div class="t " style="left:1618px;top:829.5px;font-size:10px;letter-spacing:-0.43px;color:#000;">50</div>
<div class="t " style="left:1618px;top:890.5px;font-size:10px;letter-spacing:-0.43px;color:#000;">15</div>
<div class="t " style="left:1618px;top:910px;font-size:10px;letter-spacing:-0.43px;color:#000;">0</div>
<div class="pb" style="top:45px;height:11px;line-height:12px;letter-spacing:-0.41px;background:#ff0000">28714.9</div>
<div class="pb" style="top:71px;height:11px;line-height:12px;letter-spacing:-0.41px;background:#ff0000">28643.5</div>
<div class="pb" style="top:96px;height:11px;line-height:12px;letter-spacing:-0.41px;background:#32cd32">28574.9</div>
<div class="pb" style="top:108px;height:11px;line-height:12px;letter-spacing:-0.41px;background:#000">28546.0</div>
<div class="pb" style="top:133px;height:11px;line-height:12px;letter-spacing:-0.41px;background:#0000ff">28473.4</div>
<div class="pb" style="top:168px;height:11px;line-height:12px;letter-spacing:-0.41px;background:#0000ff">28377.3</div>
<div class="t " style="left:-6px;top:926.5px;font-size:10px;letter-spacing:-0.36px;color:#000;">21 Nov 2019</div>
<div class="t " style="left:58px;top:926.5px;font-size:10px;letter-spacing:-0.29px;color:#000;">22 Nov 16:00</div>
<div class="t " style="left:122px;top:926.5px;font-size:10px;letter-spacing:-0.29px;color:#000;">25 Nov 20:00</div>
<div class="t " style="left:186px;top:926.5px;font-size:10px;letter-spacing:-0.29px;color:#000;">27 Nov 04:00</div>
<div class="t " style="left:250px;top:926.5px;font-size:10px;letter-spacing:-0.29px;color:#000;">28 Nov 12:00</div>
<div class="t " style="left:314px;top:926.5px;font-size:10px;letter-spacing:-0.31px;color:#000;">1 Dec 23:00</div>
<div class="t " style="left:378px;top:926.5px;font-size:10px;letter-spacing:-0.31px;color:#000;">3 Dec 04:00</div>
<div class="t " style="left:442px;top:926.5px;font-size:10px;letter-spacing:-0.31px;color:#000;">4 Dec 12:00</div>
<div class="t " style="left:506px;top:926.5px;font-size:10px;letter-spacing:-0.31px;color:#000;">5 Dec 20:00</div>
<div class="t " style="left:570px;top:926.5px;font-size:10px;letter-spacing:-0.31px;color:#000;">9 Dec 00:00</div>
<div class="t " style="left:634px;top:926.5px;font-size:10px;letter-spacing:-0.32px;color:#000;">10 Dec 08:00</div>
<div class="t " style="left:698px;top:926.5px;font-size:10px;letter-spacing:-0.26px;color:#000;">11 Dec 16:00</div>
<div class="t " style="left:762px;top:926.5px;font-size:10px;letter-spacing:-0.32px;color:#000;">13 Dec 00:00</div>
<div class="t " style="left:826px;top:926.5px;font-size:10px;letter-spacing:-0.32px;color:#000;">16 Dec 04:00</div>
<div class="t " style="left:890px;top:926.5px;font-size:10px;letter-spacing:-0.32px;color:#000;">17 Dec 12:00</div>
<div class="t " style="left:954px;top:926.5px;font-size:10px;letter-spacing:-0.32px;color:#000;">18 Dec 20:00</div>
<div class="t " style="left:1018px;top:926.5px;font-size:10px;letter-spacing:-0.32px;color:#000;">20 Dec 04:00</div>
<div class="t " style="left:1082px;top:926.5px;font-size:10px;letter-spacing:-0.32px;color:#000;">23 Dec 08:00</div>
<div class="t " style="left:1146px;top:926.5px;font-size:10px;letter-spacing:-0.32px;color:#000;">24 Dec 16:00</div>
<div class="t " style="left:1210px;top:926.5px;font-size:10px;letter-spacing:-0.32px;color:#000;">27 Dec 00:00</div>
<div class="t " style="left:1274px;top:926.5px;font-size:10px;letter-spacing:-0.32px;color:#000;">30 Dec 04:00</div>
<div class="t " style="left:1338px;top:926.5px;font-size:10px;letter-spacing:-0.32px;color:#000;">31 Dec 12:00</div>
<div class="t " style="left:10px;top:23.5px;font-size:10px;letter-spacing:-0.36px;color:#000;">DJ30-,H4&nbsp; 28546.0 28546.0 28546.0 28546.0</div>
<div class="t " style="left:0px;top:580px;font-size:10px;letter-spacing:-0.32px;color:#000;">MACD(12,26,9) -18.46 -12.30</div>
<div class="t " style="left:0px;top:752px;font-size:10px;letter-spacing:-0.43px;color:#000;">RSI(14) 53.2973</div>
<div id="big"><span>28574.9</span></div>
<div id="cn">多空转折点</div>
<div id="tp">
 <div class="sell">SELL</div><div class="buy">BUY</div>
 <div id="vol"><div class="b" style="left:1px"><div class="tri-d"></div></div><div class="v">1.00</div><div class="b" style="right:1px"><div class="tri-u"></div></div></div>
 <div class="ps"><span class="sm" style="left:14px">28544</span><span class="bg" style="left:52px">.5</span></div>
 <div class="pb2"><span class="sm" style="left:15px">28553</span><span class="bg" style="left:54px">.5</span></div>
</div>
<div id="tb">
<div class="cn" style="left:4px;">新订单</div>
<div class="cn" style="left:156px">自动交易</div>
<div class="sep" style="left:212px"></div><div class="grip" style="left:215px"></div>
<div class="sep" style="left:249px"></div>
<div class="pressed" style="left:250px;width:25px"></div>
<div class="sep" style="left:306px"></div>
<div class="sep" style="left:396px"></div>
<div class="sep" style="left:401px"></div><div class="pressed" style="left:402px;width:24px"></div>
<div class="sep" style="left:429px"></div><div class="pressed" style="left:430px;width:24px"></div>
<div class="sep" style="left:458px"></div>
<div class="dd" style="left:489px"></div><div class="dd" style="left:528px"></div><div class="dd" style="left:567px"></div>
<div class="sep" style="left:579px"></div><div class="grip" style="left:583px"></div>
<div class="sep" style="left:589px"></div><div class="pressed" style="left:590px;width:24px"></div>
<div class="sep" style="left:646px"></div>
<div class="dd" style="left:873px"></div>
<div class="sep" style="left:885px"></div><div class="grip" style="left:889px"></div>
<div class="tt" style="left:907px">M1</div><div class="tt" style="left:935px">M5</div><div class="tt" style="left:963px">M15</div><div class="tt" style="left:991px">M30</div><div class="tt" style="left:1019px">H1</div>
<div class="sep" style="left:1035px"></div><div class="pressed" style="left:1036px;width:24px"></div>
<div class="tt" style="left:1047px">H4</div><div class="tt" style="left:1075px">D1</div><div class="tt" style="left:1104px">W1</div><div class="tt" style="left:1131px">MN</div>
<div class="sep" style="left:1146px"></div>
<svg class="ico" width="1661" height="19" viewBox="0 0 1661 19">
<defs>
<linearGradient id="gold" x1="0" y1="0" x2="1" y2="1"><stop offset="0" stop-color="#fff0a0"/><stop offset="0.45" stop-color="#f0c020"/><stop offset="1" stop-color="#b07808"/></linearGradient>
<linearGradient id="lens" x1="0" y1="0" x2="0" y2="1"><stop offset="0" stop-color="#f4fbff"/><stop offset="1" stop-color="#b8e0f8"/></linearGradient>
<linearGradient id="cloud" x1="0" y1="0" x2="0" y2="1"><stop offset="0" stop-color="#ffffff"/><stop offset="1" stop-color="#c0cce0"/></linearGradient>
<linearGradient id="bub" x1="0" y1="0" x2="0" y2="1"><stop offset="0" stop-color="#ffffff"/><stop offset="1" stop-color="#d4d4e0"/></linearGradient>
<linearGradient id="grn" x1="0" y1="0" x2="1" y2="0"><stop offset="0" stop-color="#20c020"/><stop offset="0.5" stop-color="#70ff70"/><stop offset="1" stop-color="#20c020"/></linearGradient>
<g id="axes"><path d="M2.5 14.6V2M0 12.6H13" fill="none" stroke="#505050" stroke-width="1.25"/><path d="M1 3.4L2.5 0.8L4 3.4ZM11.6 11.1L14.2 12.6L11.6 14.1Z" fill="#505050"/></g>
</defs>
<!-- new order icon sliver -->
<rect x="0" y="9" width="1.5" height="6" fill="#108010"/>
<!-- yellow book -->
<path d="M57.5 0L67.6 7.6L60.6 14.4L52.2 8.8Z" fill="url(#gold)" stroke="#a06810" stroke-width="0.9"/>
<path d="M60.6 14.4L67.6 7.6L67.8 9.2L61 15.2Z" fill="#c08818" stroke="#8a5808" stroke-width="0.5"/>
<!-- server + cloud -->
<path d="M82.5 0H92.5V8H82.5Z" fill="#2890f0" stroke="#1060c0" stroke-width="0.8"/>
<path d="M85.5 0V8" stroke="#a0d8ff" stroke-width="1"/>
<rect x="87" y="2.2" width="4.5" height="1.4" fill="#d8f0ff"/><rect x="87" y="5" width="4.5" height="1.2" fill="#d8f0ff"/>
<path d="M83 14.6C80.4 14.6 79.8 11.2 82.4 10.6C82.6 8.4 85.6 7.6 86.8 9.4C88.4 7 92.4 7.8 92.6 10.4C95.8 10 96.6 14.6 93.4 14.6Z" fill="url(#cloud)" stroke="#3c5c9c" stroke-width="1.1"/>
<!-- signal -->
<circle cx="116" cy="6.9" r="7.3" fill="none" stroke="#a8c4ec" stroke-width="1"/>
<circle cx="116" cy="6.9" r="5" fill="none" stroke="#5080d8" stroke-width="1"/>
<circle cx="116" cy="6.9" r="2.8" fill="none" stroke="#3060d0" stroke-width="1"/>
<path d="M116 6.9L121.6 1.6A7.6 7.6 0 0 1 116 14.6Z" fill="#70c070" opacity="0.75"/>
<path d="M116.3 7V14.6" stroke="#10a010" stroke-width="1.4"/>
<circle cx="116" cy="6.6" r="1.5" fill="#2050d0"/>
<!-- autotrading -->
<path d="M136 5.5L151 5.5L146 12L146 14.5L141.5 13L141.5 11Z" fill="#f8d040" stroke="#c89818" stroke-width="0.7"/>
<path d="M140.5 0H146L147 3.2C149.5 3.4 151.2 4.2 151.2 5C151.2 6.4 147.6 7 143.4 7C139.2 7 135.6 6.4 135.6 5C135.6 4.2 137.4 3.4 139.6 3.2Z" fill="#60a8e0" stroke="#3080c8" stroke-width="0.6"/>
<circle cx="147.4" cy="10.8" r="4" fill="#e02010"/>
<rect x="145.8" y="9.2" width="3.2" height="3.2" fill="#fff"/>
<!-- bar chart -->
<use href="#axes" x="227" y="0"/>
<path d="M235.8 3V10.5M235.8 3.4H238M233.4 9.4H235.8" stroke="#109010" stroke-width="1.3" fill="none"/>
<!-- candle chart -->
<use href="#axes" x="255" y="0"/>
<path d="M263.6 0V11" stroke="#109010" stroke-width="1.2"/>
<rect x="261.5" y="1.9" width="4.2" height="6.8" fill="url(#grn)" stroke="#109010" stroke-width="0.9"/>
<!-- line chart -->
<use href="#axes" x="283" y="0"/>
<path d="M284.2 9.8C287 8.4 288.6 4.4 290.4 4.4C292 4.4 293.6 7.2 295.8 8" stroke="#209020" stroke-width="1.2" fill="none"/>
<!-- zoom in -->
<path d="M325 9.6L330.2 13.8" stroke="#a07810" stroke-width="3.4" stroke-linecap="round"/>
<path d="M325 9.6L330.2 13.8" stroke="#f0d050" stroke-width="2" stroke-linecap="round"/>
<circle cx="321" cy="4.8" r="5.6" fill="url(#lens)" stroke="#3080d0" stroke-width="1.1"/>
<path d="M317.6 4.8H324.4M321 1.4V8.2" stroke="#3878a8" stroke-width="1.6"/>
<!-- zoom out -->
<path d="M353 9.6L358.4 13.8" stroke="#a07810" stroke-width="3.4" stroke-linecap="round"/>
<path d="M353 9.6L358.4 13.8" stroke="#f0d050" stroke-width="2" stroke-linecap="round"/>
<circle cx="349" cy="4.8" r="5.6" fill="url(#lens)" stroke="#3080d0" stroke-width="1.1"/>
<path d="M345.8 4.8H352.2" stroke="#3878a8" stroke-width="1.6"/>
<!-- tile -->
<rect x="371" y="0" width="7.8" height="7" fill="#3c9c1c"/><rect x="379.2" y="0" width="7.8" height="7" fill="#2050d0"/>
<rect x="371" y="7.4" width="7.8" height="7.4" fill="#2050d0"/><rect x="379.2" y="7.4" width="7.8" height="7.4" fill="#3c9c1c"/>
<rect x="372.2" y="2" width="5.6" height="3.8" fill="#fff"/><rect x="380.4" y="2" width="5.6" height="3.8" fill="#fff"/>
<rect x="372.2" y="9.8" width="5.6" height="3.8" fill="#fff"/><rect x="380.4" y="9.8" width="5.6" height="3.8" fill="#fff"/>
<rect x="373" y="3.2" width="4" height="0.9" fill="#a0d890"/><rect x="381.4" y="3.2" width="3.6" height="0.9" fill="#90a8f0"/>
<rect x="373" y="11" width="3.6" height="0.9" fill="#90a8f0"/><rect x="381.4" y="11" width="4" height="0.9" fill="#a0d890"/>
<!-- autoscroll -->
<use href="#axes" x="407" y="0"/>
<path d="M414.2 3.3L417.8 6.5L414.2 9.8Z" fill="#30c030" stroke="#109010" stroke-width="0.7"/>
<!-- chart shift -->
<use href="#axes" x="435" y="0"/>
<path d="M443.5 1V10.8" stroke="#1070b0" stroke-width="1.2"/>
<path d="M444.4 6.5L447 4.4V5.9H449V7.1H447V8.6Z" fill="#e05000"/>
<!-- new indicator -->
<path d="M468.5 0H477L480 3V12.4H468.5Z" fill="#fff" stroke="#909090" stroke-width="0.8"/>
<path d="M473.4 2.2C472 2.2 471.6 2.8 471.6 4V9.4M470.4 5.2H473" stroke="#404040" stroke-width="1" fill="none"/>
<path d="M476.4 5.2H480V8.8H483.6V12.4H480V16.4H476.4V12.4H472.8V8.8H476.4Z" fill="#48e848" stroke="#0a800a" stroke-width="1"/>
<!-- clock -->
<circle cx="514" cy="7.2" r="6.7" fill="#fff" stroke="#1058c8" stroke-width="2.6"/>
<circle cx="514" cy="7.2" r="5.2" fill="none" stroke="#4890e8" stroke-width="0.9"/>
<rect x="512.6" y="-0.6" width="2.8" height="1.4" fill="#1058c8"/>
<path d="M513.8 4.2V7.4H516.4" stroke="#303030" stroke-width="1" fill="none"/>
<path d="M514 3V3.6M514 11V11.6M509.8 7.2H510.4M517.6 7.2H518.2" stroke="#80a8d8" stroke-width="0.8"/>
<!-- template -->
<rect x="545.5" y="0" width="15" height="13.4" fill="#fff" stroke="#3070c0" stroke-width="1"/>
<rect x="545.5" y="0" width="15" height="2.6" fill="#3878d0"/>
<path d="M546 8.2H560" stroke="#3070c0" stroke-width="0.8"/>
<path d="M547 6.4H549L550.5 5H552L553.5 5.8H555.5L557 4.6H559" stroke="#a02000" stroke-width="1.1" fill="none"/>
<path d="M547.6 11.6H549.4L551 10.6L552.6 11.6L555.4 9.4L557.4 11.6H558.6" stroke="#109010" stroke-width="1.1" fill="none"/>
<!-- cursor -->
<path d="M597.4 0L597.4 10.6L599.8 8.6L602.2 13.8L604 13L601.6 7.8L604.8 7.4Z" fill="#505050"/>
<!-- crosshair -->
<path d="M622 7.5H628M631 7.5H637M629.5 0V6M629.5 9V15" stroke="#505050" stroke-width="1.2"/>
<rect x="629" y="7" width="1" height="1" fill="#505050"/>
<!-- vline hline trend -->
<path d="M663.5 1V13.8" stroke="#505050" stroke-width="1.3"/>
<path d="M686 7.4H698" stroke="#505050" stroke-width="1.3"/>
<path d="M714 13.7L726 1.8" stroke="#505050" stroke-width="1.3"/>
<!-- channel -->
<path d="M740.3 8.7L748.6 1.2M740.7 13.4L754 5" stroke="#505050" stroke-width="1.1"/>
<path d="M742.4 11.6L743.6 6.2M745 10.2L746.4 4M747.8 8.6L749.2 1.8M750.4 7L751.4 0.4" stroke="#505050" stroke-width="0.9"/>
<text x="750.6" y="15.6" font-family="Liberation Sans, sans-serif" font-size="7" font-weight="bold" fill="#404040">E</text>
<!-- fib -->
<path d="M769 0.5H782M769 3.5H782M769 7.5H782M769 11.5H778" stroke="#505050" stroke-width="1" stroke-dasharray="1 1"/>
<text x="778.4" y="15.6" font-family="Liberation Sans, sans-serif" font-size="7" font-weight="bold" fill="#404040">F</text>
<!-- A -->
<text x="799.4" y="12" font-family="Liberation Sans, sans-serif" font-size="12" font-weight="bold" fill="#505050">A</text>
<!-- T label -->
<path d="M826 1.5H838M826 13.5H838M826.5 1V14M837.5 1V14" fill="none" stroke="#505050" stroke-width="1" stroke-dasharray="1 1" shape-rendering="crispEdges"/>
<path d="M826 1.5V0.3H829" stroke="#505050" stroke-width="1" fill="none"/>
<path d="M828.2 5H835.8M832 5V11.6" stroke="#505050" stroke-width="1.5" fill="none"/>
<!-- arrows -->
<path d="M856.4 0.8L859.6 3.6L856.4 5.6L853.2 3.6Z" fill="#505050"/>
<path d="M863.6 9L867 11.2L863.6 13.8L860.2 11.2Z" fill="#505050"/>
<path d="M855.3 8.6L857.6 10.6L861.6 5.6" stroke="#505050" stroke-width="1.3" fill="none"/>
<!-- search -->
<path d="M1613.4 7.8L1609.4 11.8" stroke="#2060d8" stroke-width="2.4" stroke-linecap="round"/>
<circle cx="1616.5" cy="4.3" r="3.6" fill="#fff" stroke="#2060e0" stroke-width="1.3"/>
<!-- chat bubbles -->
<path d="M1651 8.4L1653 10.6L1653.4 8Z" fill="#707070"/>
<ellipse cx="1649.2" cy="4" rx="6.4" ry="4.8" fill="url(#bub)" stroke="#a0a0a0" stroke-width="0.7"/>
<path d="M1637.4 10.6L1637.6 13.4L1640 11.2Z" fill="#707070"/>
<ellipse cx="1640.4" cy="7.9" rx="5" ry="3.8" fill="url(#bub)" stroke="#909090" stroke-width="0.7"/>

</svg>

</div>
<div id="tbl1"></div><div id="tbl2"></div>
<div style="position:absolute;left:1660px;top:21px;width:1px;height:924px;background:#e2e2e2"></div>
<div style="position:absolute;left:0;top:29px;width:0;height:0;border-left:3px solid transparent;border-right:3px solid transparent;border-bottom:4px solid #000"></div>
</body></html>
